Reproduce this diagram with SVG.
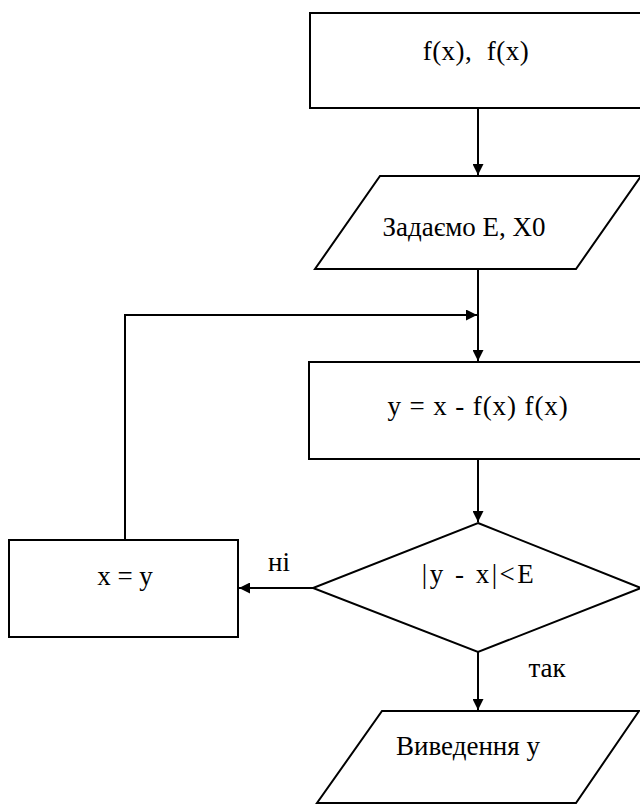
<svg xmlns="http://www.w3.org/2000/svg" width="640" height="805" viewBox="0 0 640 805">
<style>
.s{fill:#fff;stroke:#000;stroke-width:2}
.t{font-family:'Liberation Serif','Times New Roman',serif;font-size:27px;fill:#000;text-anchor:middle}
.c{fill:none;stroke:#000;stroke-width:2}
</style>
<defs>
<marker id="a" viewBox="0 0 10 10" refX="10" refY="5" markerWidth="11" markerHeight="11" markerUnits="userSpaceOnUse" orient="auto">
<path d="M0,0 L10,5 L0,10 Z" fill="#000"/>
</marker>
</defs>
<rect width="640" height="805" fill="#fff"/>
<g id="connectors">
<line class="c" x1="478" y1="108" x2="478" y2="175" marker-end="url(#a)"/>
<line class="c" x1="478" y1="269" x2="478" y2="361" marker-end="url(#a)"/>
<polyline class="c" points="125,540 125,315 477,315" marker-end="url(#a)"/>
<line class="c" x1="478" y1="459" x2="478" y2="522" marker-end="url(#a)"/>
<line class="c" x1="313" y1="588" x2="239" y2="588" marker-end="url(#a)"/>
<line class="c" x1="478" y1="652" x2="478" y2="710" marker-end="url(#a)"/>
</g>
<g id="start">
<rect class="s" x="310" y="13" width="335" height="95"/>
<text class="t" x="476" y="60" font-size="28" letter-spacing="0.5" xml:space="preserve">f(x),  f(x)</text>
</g>
<g id="input">
<polygon class="s" points="380,176 641,176 576,269 315,269"/>
<text class="t" x="464" y="236" font-size="26">Задаємо E, X0</text>
</g>
<g id="calc">
<rect class="s" x="309" y="362" width="336" height="97"/>
<text class="t" x="478" y="415" letter-spacing="0.9">y = x - f(x) f(x)</text>
</g>
<g id="decision">
<polygon class="s" points="478,523 641,588 478,652 313,588"/>
<text class="t" x="479" y="583" font-size="25" letter-spacing="2.5">|y - x|&lt;E</text>
</g>
<g id="assign">
<rect class="s" x="9" y="540" width="229" height="97"/>
<text class="t" x="125" y="585">x = y</text>
</g>
<g id="output">
<polygon class="s" points="382,711 639,711 576,803 317,803"/>
<text class="t" x="468" y="755">Виведення у</text>
</g>
<g id="labels">
<text class="t" x="279" y="571">ні</text>
<text class="t" x="547" y="677" font-size="28">так</text>
</g>
</svg>
